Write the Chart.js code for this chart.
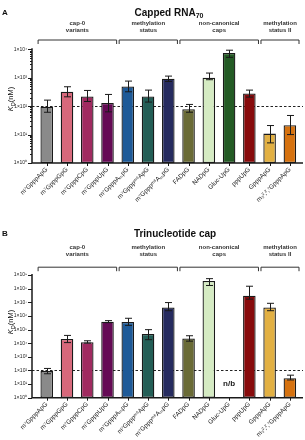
<!DOCTYPE html>
<html>
<head>
<meta charset="utf-8">
<script src="https://cdn.jsdelivr.net/npm/chart.js@4.4.0/dist/chart.umd.min.js"></script>
<style>
  html, body { margin: 0; padding: 0; background: #fff; }
  #wrap { position: relative; width: 305px; height: 440px; }
  canvas { position: absolute; left: 0; }
</style>
</head>
<body>
<div id="wrap">
  <canvas id="chartA" width="305" height="220" style="top:0"></canvas>
  <canvas id="chartB" width="305" height="220" style="top:220px"></canvas>
</div>
<script>
// Categories (caps) shared by both panels
const categories = [
  'm⁷GpppApG', 'm⁷GpppGpG', 'm⁷GpppCpG', 'm⁷GpppUpG', 'm⁷GpppAₘpG',
  'm⁷Gpppᵐ⁶ApG', 'm⁷Gpppᵐ⁶AₘpG', 'FADpG', 'NADpG', 'Gluc-UpG',
  'pppUpG', 'GpppApG', 'm₃²,²,⁷GpppApG'
];
const barColors = [
  '#8a8a8a', '#d7687b', '#a02a60', '#650a55', '#1e5a98', '#235e56', '#262b5f',
  '#6a6b36', '#d5ebc3', '#245b25', '#880b0c', '#e2b043', '#d6720f'
];
const groupNames = [['cap-0', 'variants'], ['methylation', 'status'], ['non-canonical', 'caps'], ['methylation', 'status II']];
const groupSpans = [[0, 3], [4, 6], [7, 10], [11, 12]];

// Panel A: Capped RNA70, KD (nM)
const kdA     = [95, 320, 220, 130, 495, 220, 920, 78, 1000, 7400, 280, 10.8, 21.4];
const kdALow  = [61, 213, 146, 63, 320, 139, 740, 61, 850, 5200, 208, 5.1, 10];
const kdAHigh = [163, 481, 357, 258, 762, 367, 1140, 115, 1460, 9300, 367, 20.8, 47];
const yTicksA = [1, 10, 100, 1000, 10000];

// Panel B: Trinucleotide cap, KD (nM); Gluc-UpG not binding (n/b)
const kdB     = [89, 2.0e4, 1.18e4, 3.8e5, 3.6e5, 4.7e4, 4.2e6, 2.2e4, 3.6e8, null, 3.0e7, 4.2e6, 27];
const kdBLow  = [57, 1.1e4, 1.0e4, 3.2e5, 2.0e5, 1.8e4, 2.4e6, 1.4e4, 1.7e8, null, 1.7e7, 2.4e6, 20];
const kdBHigh = [140, 3.7e4, 1.5e4, 4.5e5, 6.7e5, 9.8e4, 9.5e6, 3.5e4, 5.4e8, null, 1.5e8, 8.4e6, 45];
const yTicksB = [1, 10, 100, 1e3, 1e4, 1e5, 1e6, 1e7, 1e8, 1e9];

const cutoff = 100;

const FONT = "'Liberation Sans', Arial, sans-serif";
const SUP = '⁰¹²³⁴⁵⁶⁷⁸⁹';
const powLabel = v => '1×10' + String(Math.round(Math.log10(v))).split('').map(d => SUP[d]).join('');

// draws error bars, axes, brackets and titles
const panelDecor = {
  id: 'panelDecor',
  beforeDatasetsDraw(chart, args, o) {
    const { ctx, scales: { y } } = chart;
    const yc = Math.round(y.getPixelForValue(cutoff)) + 0.5;
    ctx.save();
    ctx.strokeStyle = '#222';
    ctx.lineWidth = 1;
    ctx.setLineDash([2.5, 2]);
    ctx.beginPath();
    ctx.moveTo(o.axisX, yc);
    ctx.lineTo(o.right, yc);
    ctx.stroke();
    ctx.restore();
  },
  afterDatasetsDraw(chart, args, o) {
    const { ctx, chartArea: a, scales: { x, y } } = chart;
    ctx.save();
    ctx.strokeStyle = '#1a1a1a';
    ctx.fillStyle = '#1a1a1a';

    // error bars
    ctx.lineWidth = 1;
    o.low.forEach((lo, i) => {
      if (lo == null) return;
      const px = Math.round(x.getPixelForValue(i)) + 0.5;
      const yl = y.getPixelForValue(lo), yh = y.getPixelForValue(o.high[i]);
      ctx.beginPath();
      ctx.moveTo(px, yl); ctx.lineTo(px, yh);
      ctx.moveTo(px - 3.5, yh); ctx.lineTo(px + 3.5, yh);
      ctx.moveTo(px - 3.5, yl); ctx.lineTo(px + 3.5, yl);
      ctx.stroke();
    });

    // axes
    ctx.lineWidth = 1.5;
    ctx.beginPath();
    ctx.moveTo(o.axisX, a.top - 1);
    ctx.lineTo(o.axisX, a.bottom);
    ctx.lineTo(o.right, a.bottom);
    ctx.stroke();
    ctx.lineWidth = 1;
    ctx.beginPath();
    o.ticks.forEach(v => {
      const py = Math.round(y.getPixelForValue(v)) + 0.5;
      ctx.moveTo(o.axisX - 4, py); ctx.lineTo(o.axisX, py);
    });
    if (o.minor) {
      for (let k = 0; k < o.ticks.length - 1; k++) {
        for (let m = 2; m < 10; m++) {
          const py = Math.round(y.getPixelForValue(o.ticks[k] * m)) + 0.5;
          ctx.moveTo(o.axisX - 2, py); ctx.lineTo(o.axisX, py);
        }
      }
    }
    categories.forEach((c, i) => {
      const px = Math.round(x.getPixelForValue(i)) + 0.5;
      ctx.moveTo(px, a.bottom); ctx.lineTo(px, a.bottom + 3);
    });
    ctx.stroke();

    // n/b marker
    ctx.textAlign = 'center';
    ctx.textBaseline = 'middle';
    o.low.forEach((lo, i) => {
      if (lo != null) return;
      ctx.font = 'bold 8px ' + FONT;
      ctx.fillText('n/b', x.getPixelForValue(i), y.getPixelForValue(10));
    });

    // group brackets
    const half = (x.getPixelForValue(1) - x.getPixelForValue(0)) / 2;
    ctx.strokeStyle = '#333';
    ctx.fillStyle = '#333';
    ctx.font = 'bold 6px ' + FONT;
    groupSpans.forEach((s, g) => {
      const l = x.getPixelForValue(s[0]) - half + 1.5;
      const r = x.getPixelForValue(s[1]) + half - 1;
      const by = o.bracketY + 0.5;
      ctx.beginPath();
      ctx.moveTo(l, by + 4); ctx.lineTo(l, by); ctx.lineTo(r, by); ctx.lineTo(r, by + 4);
      ctx.stroke();
      ctx.fillText(groupNames[g][0], (l + r) / 2, o.groupY);
      ctx.fillText(groupNames[g][1], (l + r) / 2, o.groupY + 7.3);
    });

    // panel letter and title
    ctx.fillStyle = '#111';
    ctx.textAlign = 'left';
    ctx.font = 'bold 8px ' + FONT;
    ctx.fillText(o.letter, 2, o.titleY);
    ctx.font = 'bold 10px ' + FONT;
    const w1 = ctx.measureText(o.title).width;
    ctx.font = 'bold 7px ' + FONT;
    const w2 = o.titleSub ? ctx.measureText(o.titleSub).width : 0;
    const tx = o.titleX - (w1 + w2) / 2;
    ctx.font = 'bold 10px ' + FONT;
    ctx.fillText(o.title, tx, o.titleY);
    if (o.titleSub) {
      ctx.font = 'bold 7px ' + FONT;
      ctx.fillText(o.titleSub, tx + w1, o.titleY + 3);
    }

    // y axis title K_D(nM)
    ctx.save();
    ctx.translate(11, o.yTitleY);
    ctx.rotate(-Math.PI / 2);
    ctx.font = 'italic 7.5px ' + FONT;
    const wk = ctx.measureText('K').width;
    ctx.font = '5.5px ' + FONT;
    const wd = ctx.measureText('D').width;
    ctx.font = '7.5px ' + FONT;
    const wn = ctx.measureText('(nM)').width;
    let sx = -(wk + wd + wn) / 2;
    ctx.font = 'italic 7.5px ' + FONT;
    ctx.fillText('K', sx, 0);
    ctx.font = '5.5px ' + FONT;
    ctx.fillText('D', sx + wk, 2);
    ctx.font = '7.5px ' + FONT;
    ctx.fillText('(nM)', sx + wk + wd, 0);
    ctx.restore();

    ctx.restore();
  }
};

function makePanel(id, values, low, high, ticks, opts) {
  return new Chart(document.getElementById(id), {
    type: 'bar',
    data: {
      labels: categories,
      datasets: [{
        data: values,
        backgroundColor: barColors,
        borderColor: '#1a1a1a',
        borderWidth: 1.3,
        borderSkipped: false,
        barPercentage: 0.62,
        categoryPercentage: 1
      }]
    },
    options: {
      responsive: false,
      animation: false,
      devicePixelRatio: 1,
      layout: { padding: { left: 0, right: 5, top: opts.top, bottom: 0 } },
      plugins: {
        legend: { display: false },
        tooltip: { enabled: false },
        panelDecor: Object.assign({ low, high, ticks, axisX: 32, right: 303 }, opts)
      },
      scales: {
        x: {
          grid: { display: false, drawTicks: false },
          border: { display: false },
          ticks: {
            autoSkip: false, minRotation: 45, maxRotation: 45, padding: 3,
            color: '#222', font: { family: FONT, size: 6.3 }
          },
          afterFit: s => { s.height = opts.xHeight; }
        },
        y: {
          type: 'logarithmic',
          min: ticks[0],
          max: ticks[ticks.length - 1],
          grid: { display: false, drawTicks: false },
          border: { display: false },
          afterBuildTicks: s => { s.ticks = ticks.map(v => ({ value: v })); },
          afterFit: s => { s.width = 36.6; },
          ticks: {
            padding: 9.5, color: '#222', font: { family: FONT, size: 5 },
            callback: v => powLabel(v)
          }
        }
      }
    },
    plugins: [panelDecor]
  });
}

makePanel('chartA', kdA, kdALow, kdAHigh, yTicksA, {
  top: 49.3, xHeight: 57, minor: true,
  letter: 'A', title: 'Capped RNA', titleSub: '70', titleX: 169, titleY: 13,
  groupY: 23, bracketY: 39.5, yTitleY: 99
});
makePanel('chartB', kdB, kdBLow, kdBHigh, yTicksB, {
  top: 55, xHeight: 42.3, minor: false,
  letter: 'B', title: 'Trinucleotide cap', titleSub: '', titleX: 175, titleY: 14,
  groupY: 27.5, bracketY: 46.7, yTitleY: 102
});
</script>
</body>
</html>
